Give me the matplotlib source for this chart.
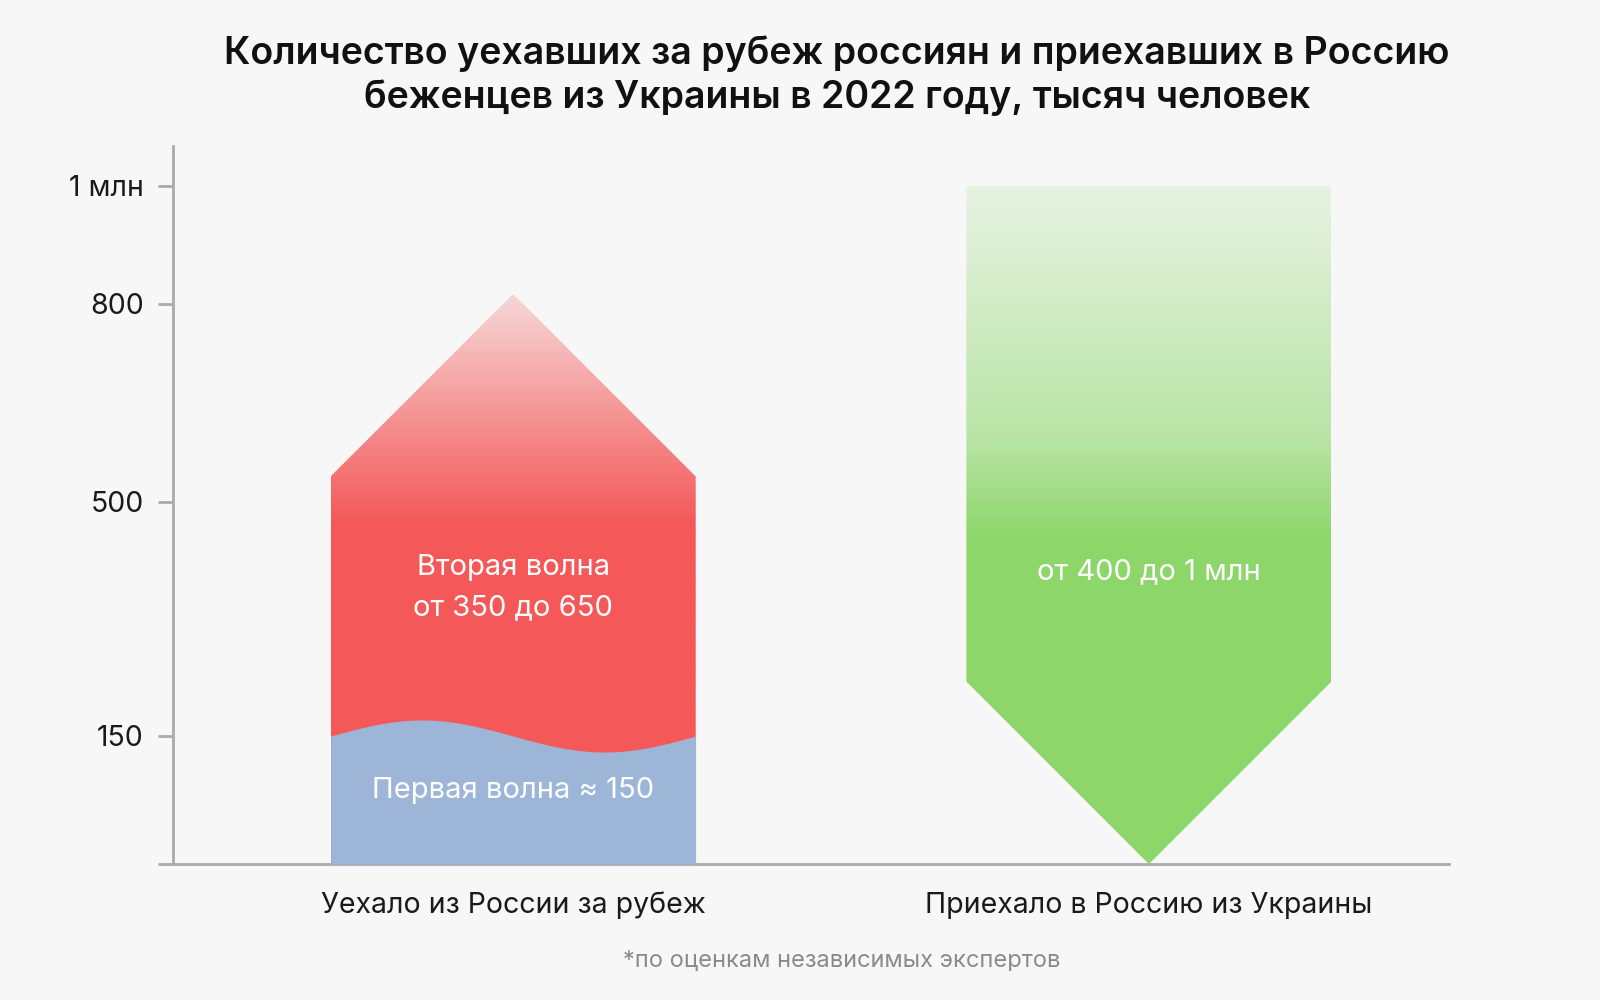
import numpy as np
import matplotlib.pyplot as plt
import matplotlib.colors as mc
from matplotlib.patches import Polygon, Rectangle

plt.rcParams['font.family'] = ['Inter', 'DejaVu Sans']

# data (thousand people)
categories = ['Уехало из России за рубеж', 'Приехало в Россию из Украины']
first_wave = 150
second_wave = (350, 650)
arrived = (400, 1000)
tick_vals = [0, 150, 500, 800, 1000]
tick_labels = ['', '150', '500', '800', '1 млн']
# piecewise axis: pixel height of each tick above the baseline
tick_px = [0, 128, 362, 560, 678]

BG = '#F7F7F7'
RED = '#F45858'
BLUE = '#9DB5D6'
GREEN = '#8CD66A'

ext_v = np.array(tick_vals + [1400])
ext_p = np.array(tick_px + [678 + 400 * 118 / 200])


def fwd(v):
    return np.interp(v, ext_v, ext_p)


def inv(p):
    return np.interp(p, ext_p, ext_v)


fig = plt.figure(figsize=(16, 10), dpi=100, facecolor=BG)
ax = fig.add_axes([173 / 1600, 1 - 864 / 1000, (1449 - 173) / 1600, (864 - 146) / 1000])
ax.set_facecolor(BG)
ax.set_yscale('function', functions=(fwd, inv))
ax_h = 864 - 146
ax.set_ylim(0, float(inv(ax_h)))
ax.set_xlim(-0.535, 1.472)
px_per_x = (1449 - 173) / (1.472 + 0.535)

x = np.arange(len(categories))
width = 0.574
half_px = width / 2 * px_per_x


def blend(c, t):
    a = np.array(mc.to_rgb(c))
    b = np.array(mc.to_rgb(BG))
    return tuple((1 - t) * a + t * b)


def gradient(poly, x0, color, stops_v, stops_t, v_top):
    # fade toward the background, stops given in data values
    sp = fwd(np.array(stops_v))
    top = fwd(v_top)
    edges = np.linspace(0, top, 241)
    for a, b in zip(edges[:-1], edges[1:]):
        t = np.interp((a + b) / 2, sp, stops_t)
        r = Rectangle((x0, inv(a)), width, inv(b + 1.0) - inv(a),
                      facecolor=blend(color, t), edgecolor='none', antialiased=False)
        ax.add_patch(r)
        r.set_clip_path(poly)


# left: emigration, house-shaped bar
lo_tot = first_wave + second_wave[0]
hi_tot = first_wave + second_wave[1]
xl = x[0] - width / 2
apex = inv(fwd(hi_tot) + 10)
shoulder = inv(fwd(apex) - half_px)
house = Polygon([(xl, 0), (xl + width, 0), (xl + width, shoulder),
                 (x[0], apex), (xl, shoulder)], closed=True,
                facecolor='none', edgecolor='none')
ax.add_patch(house)
gradient(house, xl, RED, [lo_tot - 30, apex], [0, 0.8], apex)

tt = np.linspace(0, 1, 200)
wave = inv(fwd(first_wave) + 16 * np.sin(2 * np.pi * tt))
ax.fill_between(xl + tt * width, 0, wave, color=BLUE, lw=0, zorder=3)

# right: arrivals, arrow pointing down
xr = x[1] - width / 2
shoulder_r = inv(half_px)
arrow = Polygon([(xr, arrived[1]), (xr + width, arrived[1]), (xr + width, shoulder_r),
                 (x[1], 0), (xr, shoulder_r)], closed=True,
                facecolor='none', edgecolor='none')
ax.add_patch(arrow)
gradient(arrow, xr, GREEN, [arrived[0] + 45, 600, arrived[1]], [0, 0.42, 0.85], arrived[1])

# labels inside
ax.text(x[0], 372, 'Вторая волна\nот {} до {}'.format(*second_wave), color='white',
        ha='center', va='center', fontsize=21, linespacing=1.6, zorder=4)
ax.text(x[0], inv(fwd(first_wave) / 1.75), 'Первая волна ≈ {}'.format(first_wave),
        color='white', ha='center', va='center', fontsize=21, zorder=4)
ax.text(x[1], 395, 'от {} до 1 млн'.format(arrived[0]), color='white',
        ha='center', va='center', fontsize=21, zorder=4)

# axes
for s in ['top', 'right']:
    ax.spines[s].set_visible(False)
for s in ['left', 'bottom']:
    ax.spines[s].set_color('#AAAAAA')
    ax.spines[s].set_linewidth(2)
ax.set_yticks(tick_vals)
ax.set_yticklabels(tick_labels)
ax.tick_params(axis='y', length=11, width=2, color='#AAAAAA', pad=10,
               labelsize=20.5, labelcolor='#1A1A1A')
ax.set_xticks(x)
ax.set_xticklabels(categories)
ax.tick_params(axis='x', length=0, pad=20, labelsize=20.5, labelcolor='#1A1A1A')

fig.text(0.523, 0.924, 'Количество уехавших за рубеж россиян и приехавших в Россию\n'
         'беженцев из Украины в 2022 году, тысяч человек',
         ha='center', va='center', fontsize=27, fontweight='semibold',
         linespacing=1.25, color='#111111')
fig.text(0.526, 0.039, '*по оценкам независимых экспертов', ha='center', va='center',
         fontsize=17, color='#8A8A8A')

fig.savefig('out.png', dpi=100, facecolor=BG)
